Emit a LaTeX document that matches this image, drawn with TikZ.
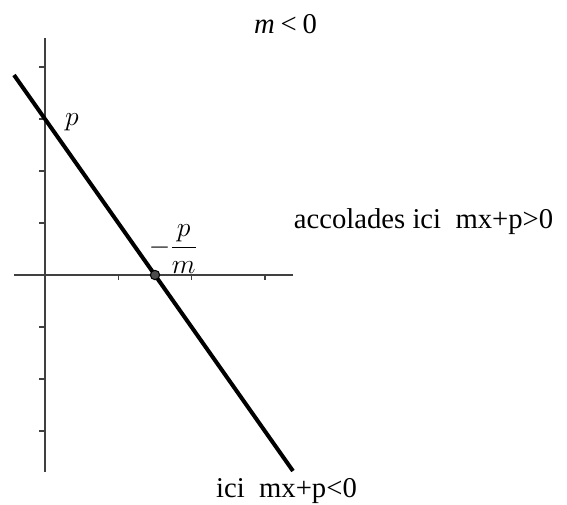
\documentclass[tikz,border=0pt]{standalone}
\usepackage{fontspec}
\setmainfont{Liberation Serif}
\usepackage{amsmath}
\usetikzlibrary{positioning}

\begin{document}
\begin{tikzpicture}[
  x=0.75pt, y=-0.75pt,
  every node/.style={font=\fontsize{21.5}{26}\selectfont, inner sep=0pt},
  %% ── Axis styles ─────────────────────────────────────────────────────────
  axis/.style={line width=1pt, draw=black!75},
  tick/.style={line width=1pt, draw=black!75},
  %% ── Line and root styles ────────────────────────────────────────────────
  droite/.style={line width=3pt, draw=black},
  racine/.style={
    circle, draw=black, fill=black!70, line width=0.8pt,
    minimum size=7pt, inner sep=0pt
  },
]

\useasboundingbox (0,0) rectangle (567,504);

%% ═══════════════════════════════════════════════════════════════════════════
%% AXES
%% ═══════════════════════════════════════════════════════════════════════════

\coordinate (xmin) at (14,275);
\coordinate (xmax) at (293,275);
\coordinate (ymax) at (45,38);
\coordinate (ymin) at (45,472);

\draw[axis] (xmin) -- (xmax);
\draw[axis] (ymax) -- (ymin);

%% — Ticks on the x-axis ─────────────────────────────────────────────────────
\draw[tick] (118.3,275) -- (118.3,280);
\draw[tick] (191.6,275) -- (191.6,280);
\draw[tick] (264.9,275) -- (264.9,280);

%% — Ticks on the y-axis ─────────────────────────────────────────────────────
\draw[tick] (39,67)  -- (45,67);
\draw[tick] (39,119) -- (45,119);
\draw[tick] (39,171) -- (45,171);
\draw[tick] (39,223) -- (45,223);
\draw[tick] (39,327) -- (45,327);
\draw[tick] (39,379) -- (45,379);
\draw[tick] (39,431) -- (45,431);

%% ═══════════════════════════════════════════════════════════════════════════
%% LINE y = mx + p
%% ═══════════════════════════════════════════════════════════════════════════

\coordinate (dA) at (14,75);
\coordinate (dB) at (293,471);

\draw[droite] (dA) -- (dB);

\node[racine] (R) at (155,275) {};

%% — Labels ──────────────────────────────────────────────────────────────────
\node (p) at (72,122) {$p$};

\node (mp) at (173,249) {$\displaystyle -\frac{p}{m}$};

%% ═══════════════════════════════════════════════════════════════════════════
%% TEXTS
%% ═══════════════════════════════════════════════════════════════════════════

\node[anchor=base] (titre) at (285.5,33)
  {\textit{m}\hspace{0.2em}<\hspace{0.2em}0};

\node[anchor=base] (haut) at (423.5,228)
  {accolades ici\ \ mx+p>0};

\node[anchor=base] (bas) at (286.5,497)
  {ici\ \ mx+p<0};

\end{tikzpicture}
\end{document}
